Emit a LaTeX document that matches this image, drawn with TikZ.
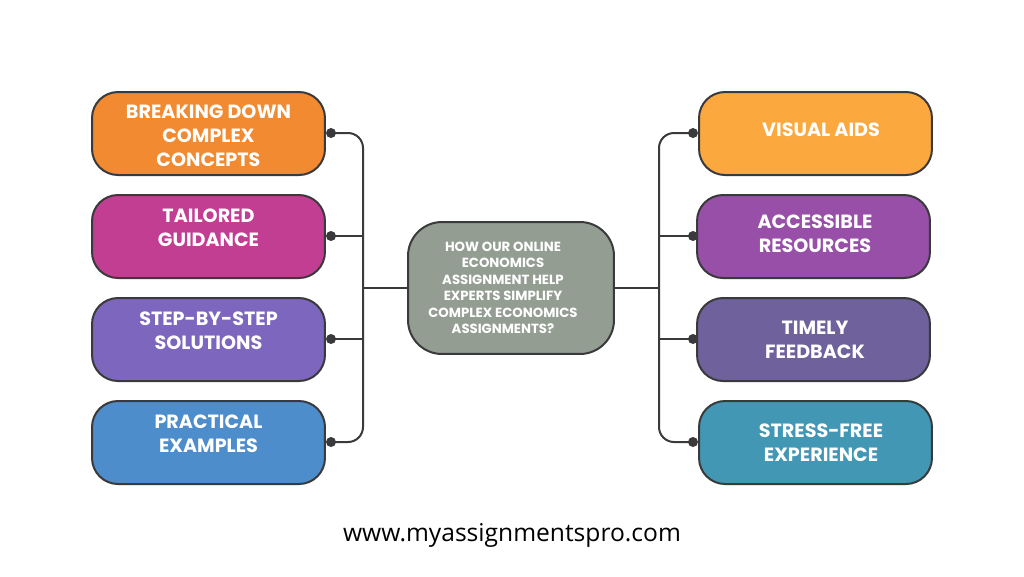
\documentclass[tikz,border=0pt]{standalone}
\usepackage{fontspec}
\setmainfont{Poppins}
\newfontfamily\webfont{Open Sans}
\definecolor{lineink}{HTML}{3A3A3C}
\definecolor{cOrange}{HTML}{F18A30}
\definecolor{cMagenta}{HTML}{C23E92}
\definecolor{cPurple}{HTML}{7D66BE}
\definecolor{cBlue}{HTML}{4D8DCB}
\definecolor{cAmber}{HTML}{FBA93F}
\definecolor{cViolet}{HTML}{974FA8}
\definecolor{cDusk}{HTML}{6F619B}
\definecolor{cTeal}{HTML}{4297B5}
\definecolor{cSage}{HTML}{939D92}
\tikzset{
    topicbox/.style = {draw = lineink, line width = 0.04cm, rounded corners = 0.52cm, minimum width = 4.66cm, minimum height = 1.66cm, inner sep = 0},
    topictext/.style = {text = white, align = center, inner sep = 0, font = \fontsize{10.9}{13.65}\selectfont\bfseries},
    linkdot/.style = {circle, fill = lineink, inner sep = 0, minimum size = 0.2cm},
    linkline/.style = {draw = lineink, line width = 0.04cm}
}
\begin{document}
\begin{tikzpicture}[x = 0.02cm, y = -0.02cm]
    \useasboundingbox (0,0) rectangle (1024,576);
    % left column
    \node[topicbox, fill = cOrange] (breaking) at (208.5,133.5) {};
    \node[topicbox, fill = cMagenta] (tailored) at (208.5,236.5) {};
    \node[topicbox, fill = cPurple] (stepwise) at (208.5,339.5) {};
    \node[topicbox, fill = cBlue] (practical) at (208.5,442.5) {};
    \node[topictext] (breakingtext) at (208.5,136) {BREAKING DOWN\\COMPLEX\\CONCEPTS};
    \node[topictext] (tailoredtext) at (208.5,228) {TAILORED\\GUIDANCE};
    \node[topictext] (stepwisetext) at (208.5,331) {STEP-BY-STEP\\SOLUTIONS};
    \node[topictext] (practicaltext) at (208.5,434) {PRACTICAL\\EXAMPLES};
    % right column
    \node[topicbox, fill = cAmber] (visual) at (815.5,133.5) {};
    \node[topicbox, fill = cViolet] (access) at (813.5,236.5) {};
    \node[topicbox, fill = cDusk] (timely) at (813.5,339.5) {};
    \node[topicbox, fill = cTeal] (stress) at (815.5,442.5) {};
    \node[topictext] (visualtext) at (821,130) {VISUAL AIDS};
    \node[topictext] (accesstext) at (815,234) {ACCESSIBLE\\RESOURCES};
    \node[topictext] (timelytext) at (815,340) {TIMELY\\FEEDBACK};
    \node[topictext] (stresstext) at (821,443) {STRESS-FREE\\EXPERIENCE};
    % centre
    \node[topicbox, fill = cSage, minimum width = 4.12cm, minimum height = 2.64cm, rounded corners = 0.68cm] (main) at (511,288) {};
    \node[topictext, font = \fontsize{7.55}{9.4}\selectfont\bfseries] (maintext) at (503,288) {HOW OUR ONLINE\\ECONOMICS\\ASSIGNMENT HELP\\EXPERTS SIMPLIFY\\COMPLEX ECONOMICS\\ASSIGNMENTS?};
    % links
    \node[linkdot] (dotla) at (331,133) {};
    \node[linkdot] (dotlb) at (331,236) {};
    \node[linkdot] (dotlc) at (331,339) {};
    \node[linkdot] (dotld) at (331,442) {};
    \node[linkdot] (dotra) at (693,133) {};
    \node[linkdot] (dotrb) at (693,236) {};
    \node[linkdot] (dotrc) at (693,339) {};
    \node[linkdot] (dotrd) at (693,442) {};
    \coordinate (busl) at (363,288);
    \coordinate (busr) at (659,288);
    \draw[linkline, rounded corners = 0.3cm] (dotla.center) -| (busl) |- (dotld.center);
    \draw[linkline, rounded corners = 0.3cm] (dotra.center) -| (busr) |- (dotrd.center);
    \draw[linkline] (dotlb.center) -- (dotlb -| busl);
    \draw[linkline] (dotlc.center) -- (dotlc -| busl);
    \draw[linkline] (dotrb.center) -- (dotrb -| busr);
    \draw[linkline] (dotrc.center) -- (dotrc -| busr);
    \draw[linkline] (main) -- (busl);
    \draw[linkline] (main) -- (busr);
    \node[font = \fontsize{14}{20}\selectfont\webfont, text = black, inner sep = 0] (site) at (512,535.5) {www.myassignmentspro.com};
\end{tikzpicture}
\end{document}
